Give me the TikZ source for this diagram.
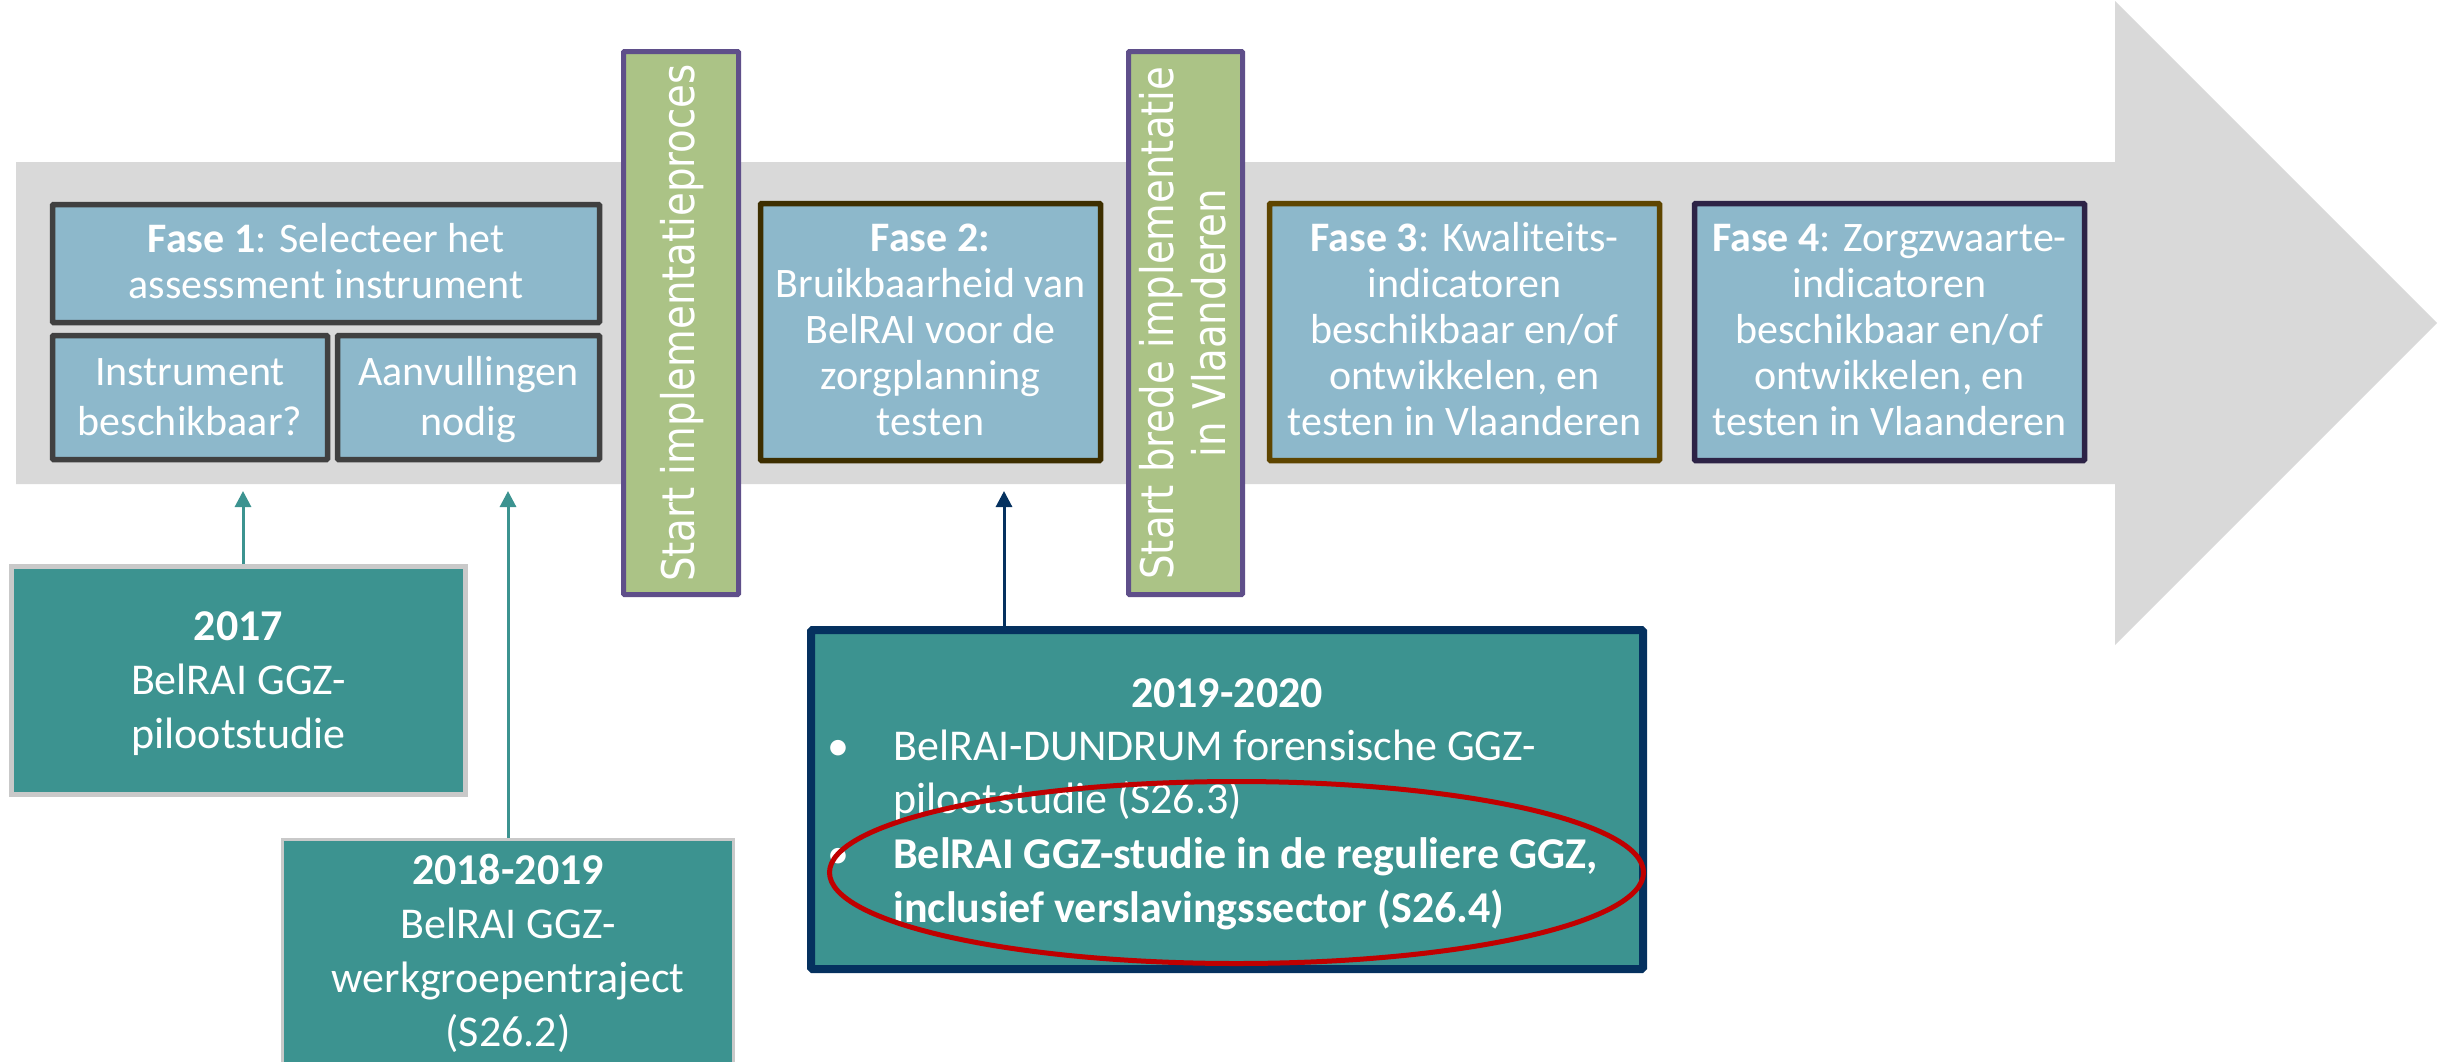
\documentclass[tikz,border=0pt]{standalone}
\usepackage{fontspec}
\setmainfont{Carlito}
\newfontfamily\barfont[FakeStretch=0.86]{DejaVu Sans}
\usetikzlibrary{arrows.meta}
\definecolor{arrowgray}{HTML}{D9D9D9}
\definecolor{boxblue}{HTML}{8DB8CB}
\definecolor{bargreen}{HTML}{ABC386}
\definecolor{barpurple}{HTML}{5F4F8A}
\definecolor{tealbox}{HTML}{3C9390}
\definecolor{navyline}{HTML}{05315F}
\definecolor{fasegray}{HTML}{404040}
\definecolor{fasebrownA}{HTML}{3D2E00}
\definecolor{fasebrownB}{HTML}{5E4500}
\definecolor{fasepurple}{HTML}{2D2346}
\definecolor{lightborder}{HTML}{C9C9C9}
\definecolor{ringred}{HTML}{C00000}
\newcommand\myTop{\rule{0pt}{0.76\baselineskip}}
\newcommand\myBot{\rule[-0.24\baselineskip]{0pt}{0.24\baselineskip}}
\tikzset{
  fasebox/.style={draw, line width=5.5pt, fill=boxblue, text=white, align=center,
    inner sep=0pt, font=\fontsize{42}{46}\selectfont, rounded corners=1pt},
  subbox/.style={fasebox, font=\fontsize{42}{50}\selectfont},
  barbox/.style={draw=barpurple, line width=5pt, fill=bargreen, text=white, align=center,
    inner sep=0pt, rotate=90, rounded corners=1pt, font=\barfont\fontsize{45}{52}\selectfont},
  yearbox/.style={fill=tealbox, text=white, align=center, inner sep=0pt,
    font=\fontsize{44}{54}\selectfont},
  yeartext/.style={text=white, inner sep=0pt, anchor=base, font=\fontsize{44}{54}\selectfont},
  yearbold/.style={yeartext, font=\fontsize{44}{54}\selectfont\bfseries},
  conn/.style={line width=3pt, -{Triangle[length=16pt,width=16pt]}},
}
\begin{document}
\begin{tikzpicture}[x=1pt,y=-1pt]
\useasboundingbox (0,0) rectangle (2450,1061);
% big gray arrow
\fill[arrowgray] (16,162) -- (2115,162) -- (2115,1) -- (2437,323) -- (2115,645)
  -- (2115,484) -- (16,484) -- cycle;
% phase boxes
\node[fasebox, draw=fasegray, minimum width=547pt, minimum height=118pt] (f1) at (326,263.5)
  {\myTop\textbf{Fase 1}: Selecteer het\\assessment instrument\myBot};
\node[subbox, draw=fasegray, minimum width=275pt, minimum height=124pt] (inst) at (190,397.5)
  {\myTop Instrument\\beschikbaar?\myBot};
\node[subbox, draw=fasegray, minimum width=262pt, minimum height=124pt] (aanv) at (468.5,397.5)
  {\myTop Aanvullingen\\nodig\myBot};
\node[barbox, minimum width=543pt, minimum height=115pt] (bar1) at (681,323)
  {\myTop Start implementatieproces\myBot};
\node[fasebox, draw=fasebrownA, minimum width=340pt, minimum height=257pt] (f2) at (930.5,332)
  {\myTop\textbf{Fase 2:}\\Bruikbaarheid van\\BelRAI voor de\\zorgplanning\\testen\myBot};
\node[barbox, minimum width=543pt, minimum height=114pt] (bar2) at (1185.5,323)
  {\myTop Start brede implementatie\\in Vlaanderen\myBot};
\node[fasebox, draw=fasebrownB, minimum width=390pt, minimum height=257pt] (f3) at (1464.5,332)
  {\myTop\textbf{Fase 3}: Kwaliteits-\\indicatoren\\beschikbaar en/of\\ontwikkelen, en\\testen in Vlaanderen\myBot};
\node[fasebox, draw=fasepurple, minimum width=390pt, minimum height=257pt] (f4) at (1889.5,332)
  {\myTop\textbf{Fase 4}: Zorgzwaarte-\\indicatoren\\beschikbaar en/of\\ontwikkelen, en\\testen in Vlaanderen\myBot};
% year boxes
\node[yearbox, draw=lightborder, line width=5pt, minimum width=454pt, minimum height=228pt] (y17) at (238.5,680.5)
  {\myTop\textbf{2017}\\BelRAI GGZ-\\pilootstudie\myBot};
\node[yearbox, draw=lightborder, line width=3pt, minimum width=451pt, minimum height=224.5pt] (y18) at (508,951.75)
  {\myTop\textbf{2018-2019}\\BelRAI GGZ-\\werkgroepentraject\\(S26.2)\myBot};
\node[yearbox, draw=navyline, line width=8pt, rounded corners=1.5pt, minimum width=832pt, minimum height=339pt] (y19) at (1227,799.5) {};
\node[yearbold] (t19) at (1227,707) {2019-2020};
\node[yeartext] (bu1) at (838,760) {•};
\node[yeartext, anchor=base west] (l1a) at (893,760) {BelRAI-DUNDRUM forensische GGZ-};
\node[yeartext, anchor=base west] (l1b) at (893,813) {pilootstudie (S26.3)};
\node[yeartext] (bu2) at (838,868) {•};
\node[yearbold, anchor=base west] (l2a) at (893,868) {BelRAI GGZ-studie in de reguliere GGZ,};
\node[yearbold, anchor=base west] (l2b) at (893,922) {inclusief verslavingssector (S26.4)};
% connectors
\coordinate (t1) at (243,491);
\coordinate (t2) at (508,491);
\coordinate (t3) at (1004,491);
\draw[conn, draw=tealbox] (t1 |- y17.north) -- (t1);
\draw[conn, draw=tealbox] (t2 |- y18.north) -- (t2);
\draw[conn, draw=navyline] (t3 |- y19.north) -- (t3);
% red ring
\draw[ringred, line width=5pt] (1236.5,872.5) ellipse [x radius=407pt, y radius=91pt];
\end{tikzpicture}
\end{document}
